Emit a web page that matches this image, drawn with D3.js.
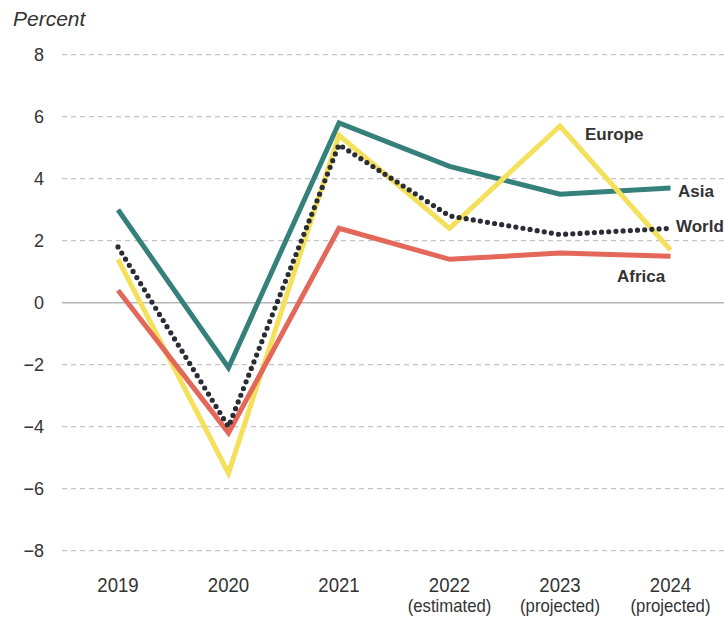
<!doctype html>
<html lang="en">
  <head>
    <meta charset="utf-8">
    <script src="https://d3js.org/d3.v7.min.js"></script>
    <title>Growth by region</title>
    <style>
      body { margin: 0; background: #fff; }
      svg text { font-family: "Liberation Sans", Arial, sans-serif; fill: #333; }
    </style>
  </head>
  <body>
    <div id="chart"></div>
    <script type="text/javascript">

      // Data
      const years = ["2019", "2020", "2021", "2022", "2023", "2024"];
      const yearNotes = ["", "", "", "(estimated)", "(projected)", "(projected)"];
      const asia   = [3.0, -2.1, 5.8, 4.4, 3.5, 3.7];
      const europe = [1.4, -5.5, 5.4, 2.4, 5.7, 1.7];
      const africa = [0.4, -4.2, 2.4, 1.4, 1.6, 1.5];
      const world  = [1.8, -4.0, 5.1, 2.8, 2.2, 2.4];
      const yTicks = [8, 6, 4, 2, 0, -2, -4, -6, -8];

      const width = 726, height = 622;

      const svg = d3.select("#chart").append("svg")
        .attr("width", width)
        .attr("height", height);

      const x = d3.scalePoint()
        .domain(years)
        .range([118, 670.5]);

      const y = d3.scaleLinear()
        .domain([-8, 8])
        .range([550.7, 54.7]);

      // Gridlines
      svg.append("g")
        .selectAll("line")
        .data(yTicks)
        .join("line")
          .attr("x1", 62)
          .attr("x2", 724)
          .attr("y1", d => y(d))
          .attr("y2", d => y(d))
          .attr("stroke", d => d === 0 ? "#b5b5b5" : "#c4c4c4")
          .attr("stroke-width", d => d === 0 ? 1.5 : 1.3)
          .attr("stroke-dasharray", d => d === 0 ? null : "5 4");

      // Y tick labels
      svg.append("g")
        .selectAll("text")
        .data(yTicks)
        .join("text")
          .attr("x", 44)
          .attr("y", d => y(d))
          .attr("dy", "0.36em")
          .attr("text-anchor", "end")
          .style("font-size", "18px")
          .text(d => d < 0 ? "\u2212" + Math.abs(d) : d);

      svg.append("text")
        .attr("x", 13)
        .attr("y", 26)
        .style("font-size", "21px")
        .style("font-style", "italic")
        .text("Percent");

      // X tick labels, slightly condensed like the reference
      const xl = svg.append("g")
        .selectAll("g")
        .data(years)
        .join("g")
          .attr("transform", d => "translate(" + x(d) + ",0) scale(0.93,1)");
      xl.append("text")
        .attr("y", 592)
        .attr("text-anchor", "middle")
        .style("font-size", "20px")
        .text(d => d);
      xl.append("text")
        .attr("y", 612)
        .attr("text-anchor", "middle")
        .style("font-size", "18px")
        .text((d, i) => yearNotes[i]);

      const line = d3.line()
        .x((d, i) => x(years[i]))
        .y(d => y(d));

      const series = [
        {name: "Asia",   values: asia,   color: "#35807b", dash: null},
        {name: "Europe", values: europe, color: "#f4e05a", dash: null},
        {name: "Africa", values: africa, color: "#e3685a", dash: null},
        {name: "World",  values: world,  color: "#2a2d34", dash: "0 7.2"}
      ];

      svg.append("g")
        .selectAll("path")
        .data(series)
        .join("path")
          .attr("d", d => line(d.values))
          .attr("fill", "none")
          .attr("stroke", d => d.color)
          .attr("stroke-width", d => d.dash ? 5.2 : 5)
          .attr("stroke-linecap", d => d.dash ? "round" : "butt")
          .attr("stroke-linejoin", "miter")
          .attr("stroke-dasharray", d => d.dash);

      // Direct labels (baselines)
      const labels = [
        {text: "Europe", x: 585, y: 140},
        {text: "Asia",   x: 678, y: 196.5},
        {text: "World",  x: 676, y: 231.5},
        {text: "Africa", x: 617, y: 281.5}
      ];
      svg.append("g")
        .selectAll("text")
        .data(labels)
        .join("text")
          .attr("x", d => d.x)
          .attr("y", d => d.y)
          .style("font-size", "17px")
          .style("font-weight", "bold")
          .text(d => d.text);
    </script>
  </body>
</html>
